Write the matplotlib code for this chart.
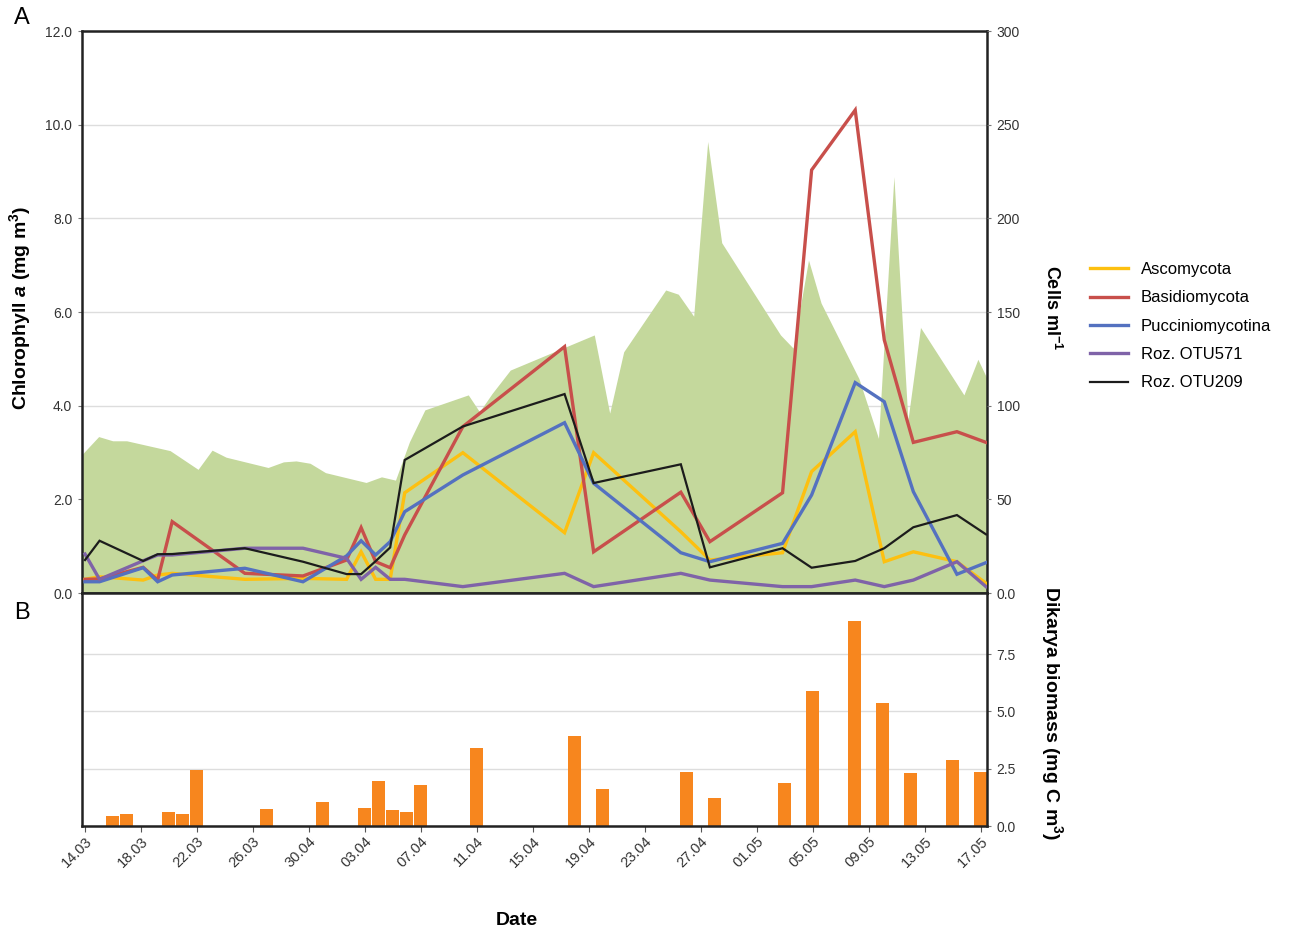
import matplotlib
matplotlib.use("Agg")
import matplotlib.pyplot as plt

plt.rcParams['font.family'] = ['Liberation Sans', 'DejaVu Sans']
plt.rcParams['mathtext.fontset'] = 'custom'
plt.rcParams['mathtext.rm'] = 'Liberation Sans:bold'
plt.rcParams['mathtext.it'] = 'Liberation Sans:bold:italic'
plt.rcParams['mathtext.bf'] = 'Liberation Sans:bold'

# x tick labels (every 4 days from 14.03, day 0)
tick_days = list(range(0, 65, 4))
tick_labels = ['14.03', '18.03', '22.03', '26.03', '30.04', '03.04', '07.04', '11.04',
               '15.04', '19.04', '23.04', '27.04', '01.05', '05.05', '09.05', '13.05', '17.05']

# Chlorophyll a (mg m-3), green area, days since 14.03
chl_days = [-0.2, 0, 1, 2, 3, 6.1, 8.1, 9.1, 10.1, 13.1, 14.2, 15.1, 16.1, 17.2, 20.1, 21.2,
            22.2, 23.2, 24.3, 27.4, 28.2, 29.1, 30.4, 36.4, 37.5, 38.5, 41.5, 42.4, 43.5,
            44.5, 45.5, 49.7, 50.6, 51.7, 52.6, 55.3, 56.7, 57.8, 58.8, 59.7, 62.8, 63.8, 64.5]
chl_values = [2.95, 3.02, 3.34, 3.25, 3.25, 3.04, 2.64, 3.05, 2.90, 2.68, 2.80, 2.82, 2.77,
              2.57, 2.36, 2.48, 2.41, 3.23, 3.91, 4.23, 3.87, 4.26, 4.76, 5.51, 3.84, 5.15,
              6.47, 6.38, 5.91, 9.64, 7.48, 5.51, 5.23, 7.11, 6.19, 4.58, 3.30, 8.89, 3.69,
              5.67, 4.23, 4.99, 4.55]

# sampling days (Dikarya biomass bars and cell counts)
sample_days = [2, 3, 6, 7, 8, 13, 17, 20, 21, 22, 23, 24, 28, 35, 37, 43, 45, 50, 52, 55,
               57, 59, 62, 64]
biomass = [0.44, 0.53, 0.61, 0.53, 2.46, 0.75, 1.05, 0.79, 1.97, 0.70, 0.61, 1.80, 3.42,
           3.95, 1.62, 2.37, 1.23, 1.89, 5.88, 8.95, 5.35, 2.32, 2.89, 2.37]

# cells ml-1
ascomycota = [7.3, 8.7, 6.9, 9.6, 10.5, 7.3, 7.8, 7.3, 22.0, 7.3, 7.3, 53.5, 74.9, 32.2,
              74.9, 32.7, 17.6, 21.5, 64.8, 86.1, 16.7, 22.0, 16.7, 5.2]
basidiomycota = [7.3, 7.5, 13.7, 6.9, 38.1, 10.5, 9.1, 17.6, 34.9, 16.7, 13.5, 31.0, 88.8,
                 131.5, 22.0, 53.8, 27.4, 53.5, 225.8, 257.8, 135.1, 80.4, 86.1, 80.4]
pucciniomycotina = [6.0, 6.0, 13.5, 6.0, 9.6, 13.2, 6.0, 19.8, 27.9, 20.3, 27.4, 43.4, 63.0,
                    90.9, 58.6, 21.5, 16.7, 26.5, 52.3, 112.3, 102.1, 54.1, 10.0, 16.2]
roz_otu571 = [20.8, 7.3, 17.2, 20.3, 20.3, 23.9, 23.9, 18.5, 7.3, 13.7, 7.3, 7.3, 3.4, 10.5,
              3.4, 10.5, 6.9, 3.4, 3.4, 6.9, 3.4, 6.9, 16.7, 3.4]
roz_otu209 = [17.6, 27.9, 17.1, 20.7, 20.8, 23.9, 16.7, 10.1, 10.1, 17.0, 24.3, 71.0, 88.9,
              106.2, 58.7, 68.7, 13.7, 23.9, 13.5, 17.1, 23.9, 35.1, 41.6, 31.3]

series = [('Ascomycota', ascomycota, '#FDC010', 2.4),
          ('Basidiomycota', basidiomycota, '#C84F4B', 2.4),
          ('Pucciniomycotina', pucciniomycotina, '#5471C0', 2.4),
          ('Roz. OTU571', roz_otu571, '#7F63A8', 2.4),
          ('Roz. OTU209', roz_otu209, '#1C1C1C', 1.6)]

fig = plt.figure(figsize=(12.91, 9.30), dpi=100)
W, H = 1291, 930
left, right = 82 / W, 987 / W
rect_top = [left, 1 - 593 / H, right - left, 562 / H]
rect_bot = [left, 1 - 826 / H, right - left, 233 / H]
xlim_days = (-0.19, 64.45)
tick_col = '#333333'
label_x = (1052 - 82) / (987 - 82)   # right-hand axis titles, in axes coords

# --- panel A: chlorophyll area ---
ax_chl = fig.add_axes(rect_top)
ax_chl.fill_between(chl_days, chl_values, 0, color='#C4D89C', linewidth=0)
ax_chl.set_xlim(*xlim_days)
ax_chl.set_ylim(0, 12)
ax_chl.set_yticks([0, 2, 4, 6, 8, 10, 12])
ax_chl.set_yticklabels(['0.0', '2.0', '4.0', '6.0', '8.0', '10.0', '12.0'])
ax_chl.set_xticks([])
ax_chl.grid(axis='y', color='#DDDDDD', linewidth=1)
ax_chl.set_axisbelow(True)
ax_chl.tick_params(axis='y', length=3, color='#777777', labelsize=10, labelcolor=tick_col, pad=4)
for s in ax_chl.spines.values():
    s.set_linewidth(1.8)
    s.set_color('#222222')
ax_chl.set_ylabel(r'Chlorophyll $a$ (mg m$^{3}$)', fontsize=14, fontweight='bold',
                  va='center', ha='center')
ax_chl.yaxis.set_label_coords((20 - 82) / (987 - 82), (593 - 308) / 562)

# --- panel A: cell counts (own x scale spanning first to last sample) ---
ax_cells = fig.add_axes(rect_top, facecolor='none')
span = 64 - 2
px_per_day = (986 - 85) / span
ax_cells.set_xlim(2 - 3 / px_per_day, 64 + 1 / px_per_day)
ax_cells.set_ylim(0, 300)
for name, vals, col, lw in series:
    ax_cells.plot(sample_days, vals, color=col, linewidth=lw, label=name, solid_joinstyle='miter')
ax_cells.set_xticks([])
ax_cells.yaxis.tick_right()
ax_cells.yaxis.set_label_position('right')
ax_cells.set_yticks([0, 50, 100, 150, 200, 250, 300])
ax_cells.set_yticklabels(['0.0', '50', '100', '150', '200', '250', '300'])
ax_cells.tick_params(axis='y', length=3, color='#777777', labelsize=10, labelcolor=tick_col, pad=4)
for s in ax_cells.spines.values():
    s.set_visible(False)
ax_cells.set_ylabel(r'Cells ml$^{-1}$', fontsize=13, fontweight='bold', rotation=-90,
                    va='center', ha='center')
ax_cells.yaxis.set_label_coords(label_x, (593 - 308) / 562)

# --- panel B: Dikarya biomass bars ---
ax_bar = fig.add_axes(rect_bot)
ax_bar.bar(sample_days, biomass, width=0.9, color='#F7861E', zorder=2)
ax_bar.set_xlim(*xlim_days)
ax_bar.set_ylim(0, 10.17)
ax_bar.yaxis.tick_right()
ax_bar.yaxis.set_label_position('right')
ax_bar.set_yticks([0, 2.5, 5, 7.5])
ax_bar.set_yticklabels(['0.0', '2.5', '5.0', '7.5'])
ax_bar.grid(axis='y', color='#DDDDDD', linewidth=1, zorder=0)
ax_bar.set_axisbelow(True)
ax_bar.tick_params(axis='y', length=3, color='#777777', labelsize=10, labelcolor=tick_col, pad=4)
ax_bar.set_xticks(tick_days)
ax_bar.set_xticklabels(tick_labels, rotation=45, ha='right', va='top', rotation_mode='anchor')
ax_bar.tick_params(axis='x', length=4, color='#555555', labelsize=10.5, labelcolor=tick_col, pad=2)
for s in ax_bar.spines.values():
    s.set_linewidth(1.8)
    s.set_color('#222222')
ax_bar.set_ylabel(r'Dikarya biomass (mg C m$^{3}$)', fontsize=14, fontweight='bold',
                  rotation=-90, va='center', ha='center')
ax_bar.yaxis.set_label_coords(label_x, (826 - 713) / 233)
ax_bar.set_xlabel('Date', fontsize=14, fontweight='bold', va='center')
ax_bar.xaxis.set_label_coords((517 - 82) / (987 - 82), (826 - 920) / 233)

# panel letters
fig.text(22 / W, 1 - 18 / H, 'A', fontsize=17, ha='center', va='center')
fig.text(22 / W, 1 - 613 / H, 'B', fontsize=17, ha='center', va='center')

# legend
handles, labels = ax_cells.get_legend_handles_labels()
fig.legend(handles, labels, loc='upper left', bbox_to_anchor=(1075 / W, 1 - 247 / H),
           frameon=False, fontsize=12, handlelength=2.3, handletextpad=0.75, labelspacing=0.8)

fig.savefig('out.png', dpi=100)
